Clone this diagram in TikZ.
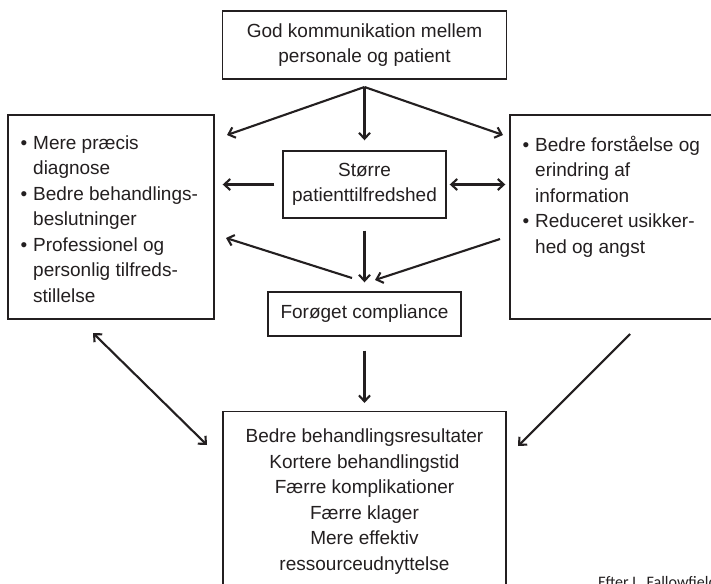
\documentclass[tikz,border=0pt]{standalone}
\usepackage{fontspec}
\setmainfont{Liberation Sans}
\newfontfamily\notefont{Carlito}
\usetikzlibrary{arrows.meta}
\definecolor{ink}{HTML}{231F20}
\begin{document}
\begin{tikzpicture}[x=1pt,y=-1pt,
  box/.style={draw=ink, line width=1.4pt, inner sep=0pt, text=ink,
    font=\fontsize{19}{25.5}\selectfont, align=center},
  txt/.style={inner sep=0pt, text=ink, font=\fontsize{19}{25.5}\selectfont, align=left},
  arr/.style={draw=ink, line width=2.1pt, -{Straight Barb[length=6pt,width=11pt]}},
  darr/.style={draw=ink, line width=2.1pt, {Straight Barb[length=6pt,width=11pt]}-{Straight Barb[length=6pt,width=11pt]}}]
\useasboundingbox (0,0) rectangle (711,583);
\clip (0,0) rectangle (711,583);
\fill[white] (0,0) rectangle (711,583);
\newcommand{\bul}{\llap{\textbullet\hspace{6pt}}}

% boxes
\node[box, minimum width=284pt, minimum height=68pt] (top) at (364.5,45)
  {God kommunikation mellem\\personale og patient};
\node[box, minimum width=206pt, minimum height=204pt] (L) at (111,217) {};
\node[box, minimum width=240pt, minimum height=204pt] (R) at (630,217) {};
\node[box, minimum width=163pt, minimum height=67pt] (S) at (364.5,184.5)
  {Større\\patienttilfredshed};
\node[box, minimum width=193pt, minimum height=44pt] (C) at (364.5,314)
  {Forøget compliance};
\node[box, minimum width=283pt, minimum height=208pt, anchor=north] (B) at (364.5,411) {};

% box texts
\node[txt, anchor=north west] (Lt) at (33,135.5)
  {\bul Mere præcis\\diagnose\\\bul Bedre behandlings-\\beslutninger\\\bul Professionel og\\personlig tilfreds-\\stillelse};
\node[txt, anchor=north west] (Rt) at (535,135.5)
  {\bul Bedre forståelse og\\erindring af\\information\\\bul Reduceret usikker-\\hed og angst};
\node[txt, align=center, anchor=north] (Bt) at (364.5,429)
  {Bedre behandlingsresultater\\Kortere behandlingstid\\Færre komplikationer\\Færre klager\\Mere effektiv\\ressourceudnyttelse};

\node[inner sep=0pt, anchor=base west, text=ink, font=\notefont\fontsize{16}{18}\selectfont] (src) at (598,587) {Efter L. Fallowfield};

% connector points
\coordinate (tj) at (364.5,87);
\coordinate (tl) at (227,135);
\coordinate (tr) at (503,135);
\coordinate (cl) at (352,278);
\coordinate (le) at (226,238);
\coordinate (re) at (500,239);
\coordinate (cr) at (375,280);
\coordinate (bl1) at (93,333);
\coordinate (bl2) at (207,445);
\coordinate (br1) at (630,334);
\coordinate (br2) at (518,446);

% connectors
\draw[arr] (tj) -- (tl);
\draw[arr] (tj) -- (tr);
\draw[arr, shorten >=10pt] (tj) -- (S.north);
\draw[arr, shorten <=8pt, shorten >=8pt] (S.west) -- (S.west -| L.east);
\draw[darr, shorten <=3pt, shorten >=4pt] (S.east) -- (S.east -| R.west);
\draw[arr, shorten <=12pt, shorten >=9pt] (S.south) -- (C.north);
\draw[arr] (cl) -- (le);
\draw[arr] (re) -- (cr);
\draw[arr, shorten <=14pt, shorten >=8pt] (C.south) -- (B.north);
\draw[darr] (bl1) -- (bl2);
\draw[arr] (br1) -- (br2);
\end{tikzpicture}
\end{document}
